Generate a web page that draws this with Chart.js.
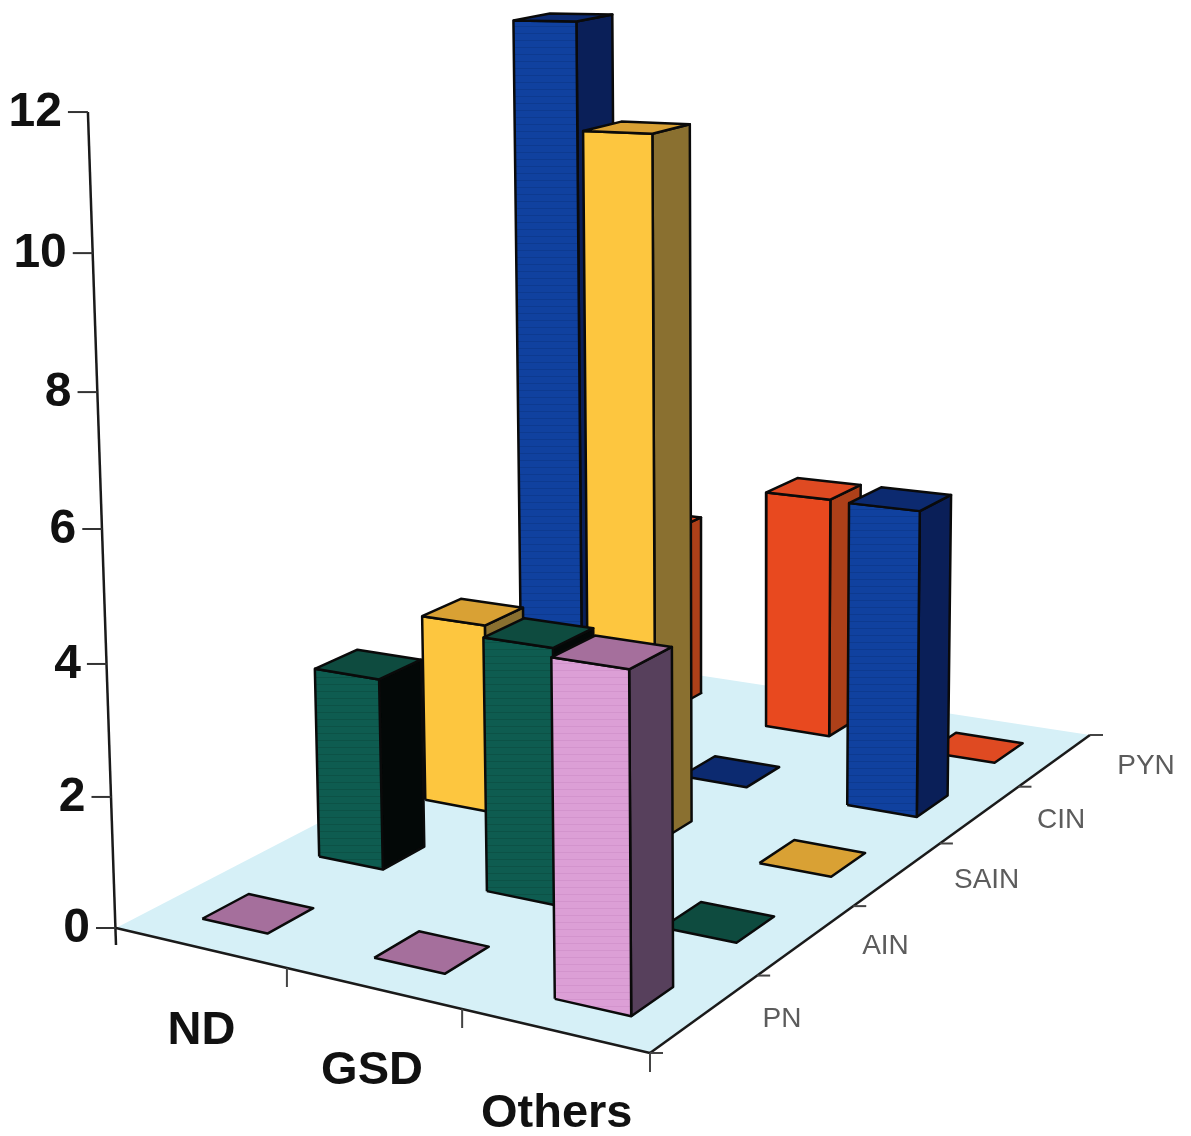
<!DOCTYPE html>
<html>
<head>
<meta charset="utf-8">
<script src="https://cdn.jsdelivr.net/npm/chart.js@4"></script>
<style>
  html, body { margin: 0; padding: 0; background: #fff; }
  canvas { display: block; filter: blur(0.6px); }
</style>
</head>
<body>
<canvas id="chart" width="1191" height="1136"></canvas>
<script>
// values, one list per depth row
const groups = ["ND", "GSD", "Others"];
const rows = ["PN", "AIN", "SAIN", "CIN", "PYN"];
const valueTicks = [0, 2, 4, 6, 8, 10, 12];
const pn = [0, 0, 4.8];
const ain = [3, 3.9, 0];
const sain = [3.07, 11, 0];
const cin = [12.33, 0, 4.9];
const pyn = [3.2, 4.1, 0];
const series = [pn, ain, sain, cin, pyn];

// small square of colour with one darker row, gives the scanned stripe on the fronts
const stripe = (color, dark) => {
  const c = document.createElement("canvas");
  c.width = 4;
  c.height = 7;
  const g = c.getContext("2d");
  g.fillStyle = color;
  g.fillRect(0, 0, 4, 7);
  g.fillStyle = dark;
  g.fillRect(0, 5, 4, 1);
  return g.createPattern(c, "repeat");
};

const rowColors = [
  { front: stripe("#dc9fd6", "#d394cd"), side: "#57405c", top: "#a56f9c" },
  { front: stripe("#0e5c50", "#0c5246"), side: "#030807", top: "#0e4b3f" },
  { front: "#fdc63f", side: "#8a7030", top: "#d9a134" },
  { front: stripe("#10419f", "#0d3a90"), side: "#0a1f58", top: "#0c2a70" },
  { front: "#e8491f", side: "#ad4019", top: "#df4a22" },
];

// floor corners on the canvas, used to build the perspective
const floor = { a: [116, 928], b: [650, 1053], c: [1090, 735], d: [625, 664] };
const vanish = [738, 19000];
const heightK = -0.0036;
const barS = 0.4;
const barT = 0.385;
// the scan is not a clean projection, these pull groups back onto their spots
const barNudge = [0, 0.03, 0.03];
const tickNudge = [0.04, 0.025, 0];
const rowLabelNudge = [0, 2, 12, 4, 14];

const buildFloorMap = ({ a, b, c, d }) => {
  const dx1 = b[0] - c[0], dx2 = d[0] - c[0], sx = a[0] - b[0] + c[0] - d[0];
  const dy1 = b[1] - c[1], dy2 = d[1] - c[1], sy = a[1] - b[1] + c[1] - d[1];
  const det = dx1 * dy2 - dx2 * dy1;
  const g = (sx * dy2 - dx2 * sy) / det;
  const h = (dx1 * sy - sx * dy1) / det;
  return {
    g, h,
    a: b[0] - a[0] + g * b[0], b: d[0] - a[0] + h * d[0], c: a[0],
    d: b[1] - a[1] + g * b[1], e: d[1] - a[1] + h * d[1], f: a[1],
  };
};
const m = buildFloorMap(floor);

// group position, row position, value -> canvas point
const project = (i, j, v) => {
  const s = i / groups.length, t = j / rows.length;
  const k = v * heightK;
  const w = m.g * s + m.h * t + 1 + k;
  return {
    x: (m.a * s + m.b * t + m.c + k * vanish[0]) / w,
    y: (m.d * s + m.e * t + m.f + k * vanish[1]) / w,
  };
};

const poly = (pts, fillColor, borderWidth = 2.5) => ({
  data: [...pts, pts[0]],
  showLine: true,
  fill: "shape",
  backgroundColor: fillColor,
  borderColor: "#0a0a0a",
  borderWidth,
  borderJoinStyle: "round",
  pointRadius: 0,
  tension: 0,
  clip: false,
});
const line = (p, q, color = "#1a1a1a", borderWidth = 2.5) => ({
  data: [p, q],
  showLine: true,
  fill: false,
  borderColor: color,
  borderWidth,
  pointRadius: 0,
  clip: false,
});
const shift = (p, dx, dy) => ({ x: p.x + dx, y: p.y + dy });

const barFaces = (i, j, v) => {
  const halfS = barS / 2, halfT = barT / 2;
  const s0 = i + barNudge[i] + 0.5 - halfS, s1 = i + barNudge[i] + 0.5 + halfS;
  const t0 = j + 0.5 - halfT, t1 = j + 0.5 + halfT;
  const col = rowColors[j];
  const top = poly([project(s0, t0, v), project(s1, t0, v), project(s1, t1, v), project(s0, t1, v)], col.top);
  if (v === 0) return [top];
  return [
    poly([project(s1, t0, 0), project(s1, t1, 0), project(s1, t1, v), project(s1, t0, v)], col.side),
    poly([project(s0, t0, 0), project(s1, t0, 0), project(s1, t0, v), project(s0, t0, v)], col.front),
    top,
  ];
};

// painter's order: floor and axes first, then back row to front row
const layers = [];
layers.push({
  ...poly([project(0, 0, 0), project(3, 0, 0), project(3, 5, 0), project(0, 5, 0)], "#d6f0f7"),
  borderColor: "transparent",
  borderWidth: 0,
});
layers.push(line(project(0, 0, 0), project(3, 0, 0)));
layers.push(line(project(3, 0, 0), project(3, 5, 0)));
layers.push(line(shift(project(0, 0, 0), 0, 17), project(0, 0, 12)));
valueTicks.forEach((v) => {
  const p = project(0, 0, v);
  layers.push(line(shift(p, -20, 0), p, "#333", 2));
});
groups.forEach((_, i) => {
  const p = project(i + 1 + tickNudge[i], 0, 0);
  layers.push(line(p, shift(p, 0, 19), "#444", 2));
});
rows.forEach((_, j) => {
  const p = project(3, j + 1, 0);
  layers.push(line(p, shift(p, 13, 0), "#444", 2));
});
layers.push(line(project(3, 0, 0), shift(project(3, 0, 0), 13, 0), "#444", 2));
for (let j = rows.length - 1; j >= 0; j--) {
  groups.forEach((_, i) => layers.push(...barFaces(i, j, series[j][i])));
}

const labelsPlugin = {
  id: "labels3d",
  afterDraw(chart) {
    const { ctx, scales: { x, y } } = chart;
    const put = (text, p, font, color) => {
      ctx.font = font;
      ctx.fillStyle = color;
      ctx.fillText(text, x.getPixelForValue(p.x), y.getPixelForValue(p.y));
    };
    ctx.save();
    ctx.textBaseline = "middle";
    ctx.textAlign = "right";
    valueTicks.forEach((v) => put(String(v), shift(project(0, 0, v), -26, 1), "bold 48px 'Liberation Sans'", "#111"));
    ctx.textAlign = "center";
    groups.forEach((g, i) => put(g, shift(project(i + 0.5, 0, 0), 5, 84), "bold 47px 'Liberation Sans'", "#111"));
    rows.forEach((r, j) => put(r, shift(project(3, j + 0.5, 0), 77 + rowLabelNudge[j], 6), "28px 'Liberation Sans'", "#5c5c5c"));
    ctx.restore();
  },
};

new Chart(document.getElementById("chart"), {
  type: "scatter",
  // chart.js paints the first dataset last
  data: { datasets: layers.reverse() },
  options: {
    responsive: false,
    animation: false,
    events: [],
    layout: { padding: 0 },
    scales: {
      x: { type: "linear", min: 0, max: 1191, display: false },
      y: { type: "linear", min: 0, max: 1136, reverse: true, display: false },
    },
    plugins: { legend: { display: false }, tooltip: { enabled: false } },
  },
  plugins: [labelsPlugin],
});
</script>
</body>
</html>
